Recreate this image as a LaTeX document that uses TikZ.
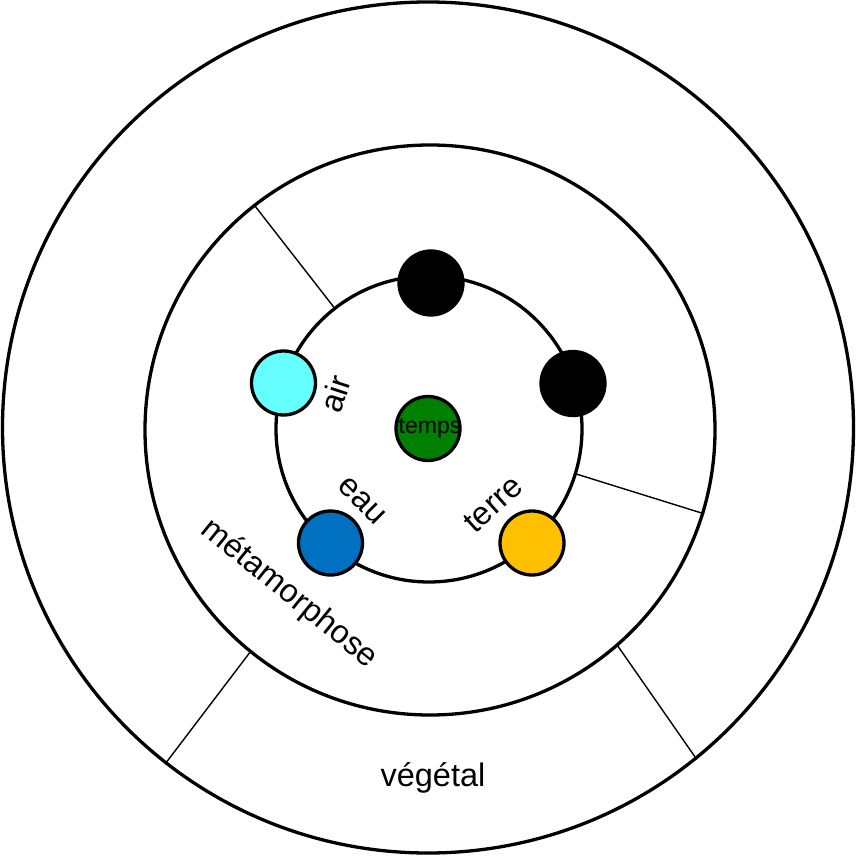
\documentclass[tikz,border=0pt]{standalone}
\usepackage{fontspec}
\setmainfont{Liberation Sans}
\definecolor{aircyan}{HTML}{66FFFF}
\definecolor{eaublue}{HTML}{0070C0}
\definecolor{terreorange}{HTML}{FFC000}
\definecolor{tempsgreen}{HTML}{008000}

\begin{document}
\begin{tikzpicture}[
    x=1pt, y=1pt,
    ring/.style={circle, draw=black, line width=3.3pt, inner sep=0pt},
    dot/.style={circle, draw=black, line width=3.3pt, inner sep=0pt, minimum size=64pt},
    divider/.style={draw=black, line width=1.4pt},
    bigtext/.style={font=\fontsize{32.5}{32.5}\selectfont, inner sep=0pt},
    smalltext/.style={font=\fontsize{23}{23}\selectfont, inner sep=0pt},
]
\useasboundingbox (0,0) rectangle (856,855);

% Rings
\node[ring, minimum size=851pt] (outer) at (428,427.5) {};
\node[ring, minimum size=570pt] (middle) at (430,425) {};
\node[ring, minimum size=306pt] (inner) at (429,426) {};

% Dividers
\draw[divider] (inner.128) -- (middle.128);
\draw[divider] (inner.-17) -- (middle.-17);
\draw[divider] (middle.231) -- (outer.232);
\draw[divider] (middle.-49) -- (outer.-51);

% Elements on the inner ring
\node[dot, fill=black] (topdot) at (431,572) {};
\node[dot, fill=black] (rightdot) at (573,471.5) {};
\node[dot, fill=aircyan] (air) at (283.5,472) {};
\node[dot, fill=eaublue] (eau) at (330.5,312) {};
\node[dot, fill=terreorange] (terre) at (532,312) {};

% Centre
\node[dot, fill=tempsgreen] (temps) at (428,426.5) {};
\node[smalltext] (tempslabel) at ([xshift=2pt]temps.center) {temps};

% Labels
\node[bigtext, rotate=72] (airlabel) at (335,461) {air};
\node[bigtext, rotate=-45] (eaulabel) at (362,354) {eau};
\node[bigtext, rotate=42] (terrelabel) at (493,351) {terre};
\node[bigtext, rotate=-39] (metalabel) at (289,261) {métamorphose};
\node[bigtext] (vegetallabel) at (433,77) {végétal};

\end{tikzpicture}
\end{document}
